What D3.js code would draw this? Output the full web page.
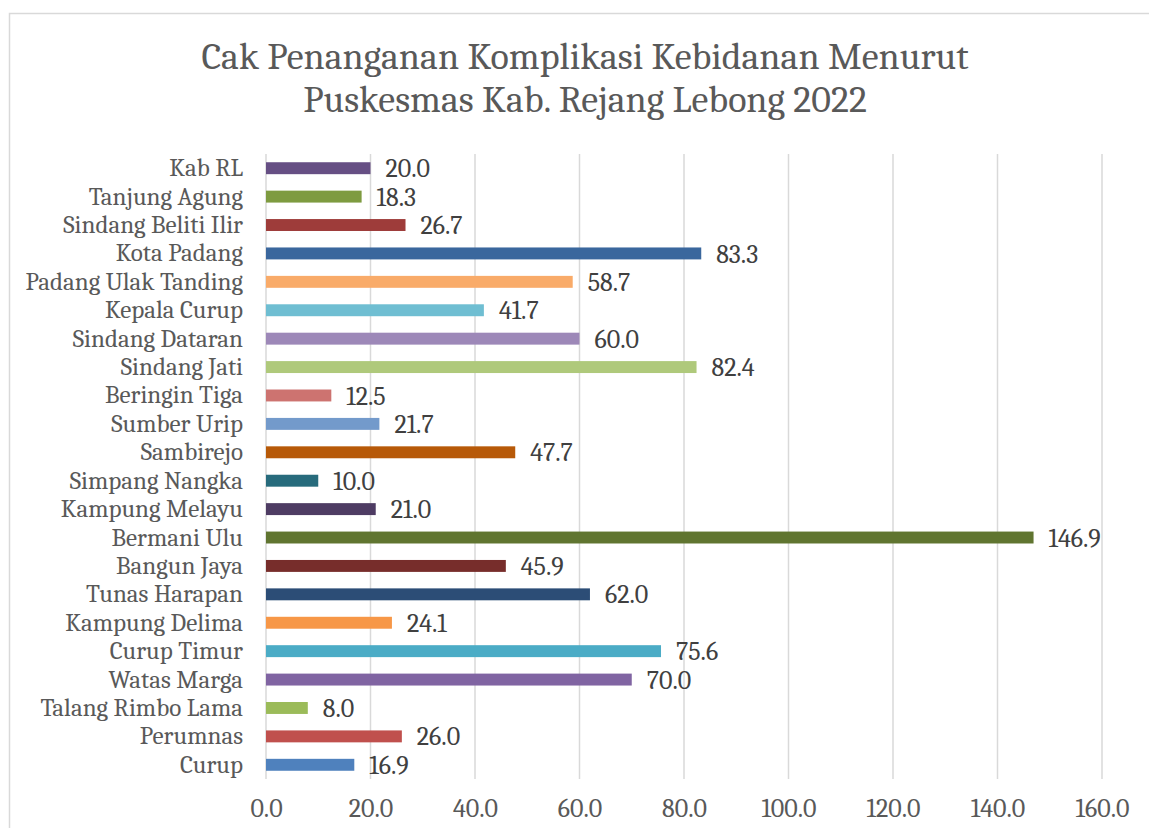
<!DOCTYPE html>
<html>
<head>
<meta charset="utf-8">
<script src="https://cdn.jsdelivr.net/npm/d3@7"></script>
<style>
body { margin: 0; background: #fff; }
</style>
</head>
<body>
<div id="canvas"></div>
<script>
// ----------------------------------------------------------
// DATA -----------------------------------------------------
// ----------------------------------------------------------
var categories = [
"Kab RL", "Tanjung Agung", "Sindang Beliti Ilir", "Kota Padang",
"Padang Ulak Tanding", "Kepala Curup", "Sindang Dataran", "Sindang Jati",
"Beringin Tiga", "Sumber Urip", "Sambirejo", "Simpang Nangka",
"Kampung Melayu", "Bermani Ulu", "Bangun Jaya", "Tunas Harapan",
"Kampung Delima", "Curup Timur", "Watas Marga", "Talang Rimbo Lama",
"Perumnas", "Curup"
];
var values = [
20.0, 18.3, 26.7, 83.3,
58.7, 41.7, 60.0, 82.4,
12.5, 21.7, 47.7, 10.0,
21.0, 146.9, 45.9, 62.0,
24.1, 75.6, 70.0, 8.0,
26.0, 16.9
];
var bar_colors = [
"#664f84", "#7e9b40", "#9e3c3a", "#3a679d",
"#f9ab69", "#6fbed2", "#9d88b8", "#afc97b",
"#cd7370", "#739acb", "#b75908", "#276b7c",
"#4e3c63", "#607530", "#772d2b", "#2c4d76",
"#f79747", "#4bacc6", "#8064a2", "#9bbb59",
"#c0504d", "#4f81bd"
];
var x_ticks = [0, 20, 40, 60, 80, 100, 120, 140, 160];

// ----------------------------------------------------------
// STRUCTURE ------------------------------------------------
// ----------------------------------------------------------
var W = 1149, H = 828;
var plot = { left: 266, right: 1102, top: 154, bottom: 779 };
var font = "Cambria, 'DejaVu Serif', serif";

var svg = d3.select("#canvas").append("svg")
.attr("width", W)
.attr("height", H)
.style("background-color", "#fff");

// chart border
svg.append("rect")
.attr("x", 9.5).attr("y", 13.5)
.attr("width", W + 20).attr("height", H + 20)
.attr("fill", "none")
.attr("stroke", "#d9d9d9")
.attr("stroke-width", 1.5);

// title
var title = svg.append("text")
.attr("text-anchor", "middle")
.style("font-family", font)
.style("font-size", "38px")
.style("fill", "#595959");
title.append("tspan").attr("x", 585).attr("y", 69).text("Cak Penanganan Komplikasi Kebidanan Menurut");
title.append("tspan").attr("x", 585).attr("y", 112).text("Puskesmas Kab. Rejang Lebong 2022");

// scales
var x = d3.scaleLinear().domain([0, 160]).range([plot.left, plot.right]);
var y = d3.scaleBand().domain(categories).range([plot.top, plot.bottom]).paddingInner(0.58).paddingOuter(0.29);

// gridlines
svg.append("g").selectAll("line")
.data(x_ticks)
.enter()
.append("line")
.attr("x1", (d) => x(d)).attr("x2", (d) => x(d))
.attr("y1", plot.top).attr("y2", plot.bottom)
.attr("stroke", "#d9d9d9")
.attr("stroke-width", 1.5);

// x axis labels
var xAxis = svg.append("g")
.attr("transform", `translate(0, ${plot.bottom})`)
.call(d3.axisBottom(x).tickValues(x_ticks).tickFormat(d3.format(".1f")).tickSize(0));
xAxis.select(".domain").remove();
xAxis.selectAll("text")
.attr("y", 38)
.attr("dy", null)
.style("font-family", font)
.style("font-size", "26px")
.style("fill", "#595959");

// y axis labels
var yAxis = svg.append("g")
.attr("transform", `translate(${plot.left - 23}, 0)`)
.call(d3.axisLeft(y).tickSize(0).tickPadding(0));
yAxis.select(".domain").remove();
yAxis.selectAll("text")
.style("font-family", font)
.style("font-size", "25px")
.style("fill", "#595959");

// bars
var rows = categories.map((c, i) => ({ term: c, value: values[i], color: bar_colors[i] }));
var bar = svg.append("g").selectAll("g")
.data(rows)
.enter()
.append("g");

bar.append("rect")
.attr("x", x(0))
.attr("y", (d) => y(d.term))
.attr("width", (d) => x(d.value) - x(0))
.attr("height", y.bandwidth())
.style("fill", (d) => d.color);

bar.append("text")
.attr("x", (d) => x(d.value) + 15)
.attr("y", (d) => y(d.term) + y.bandwidth() / 2)
.attr("dy", "0.35em")
.style("font-family", font)
.style("font-size", "26px")
.style("fill", "#404040")
.text((d) => d.value.toFixed(1));
</script>
</body>
</html>
